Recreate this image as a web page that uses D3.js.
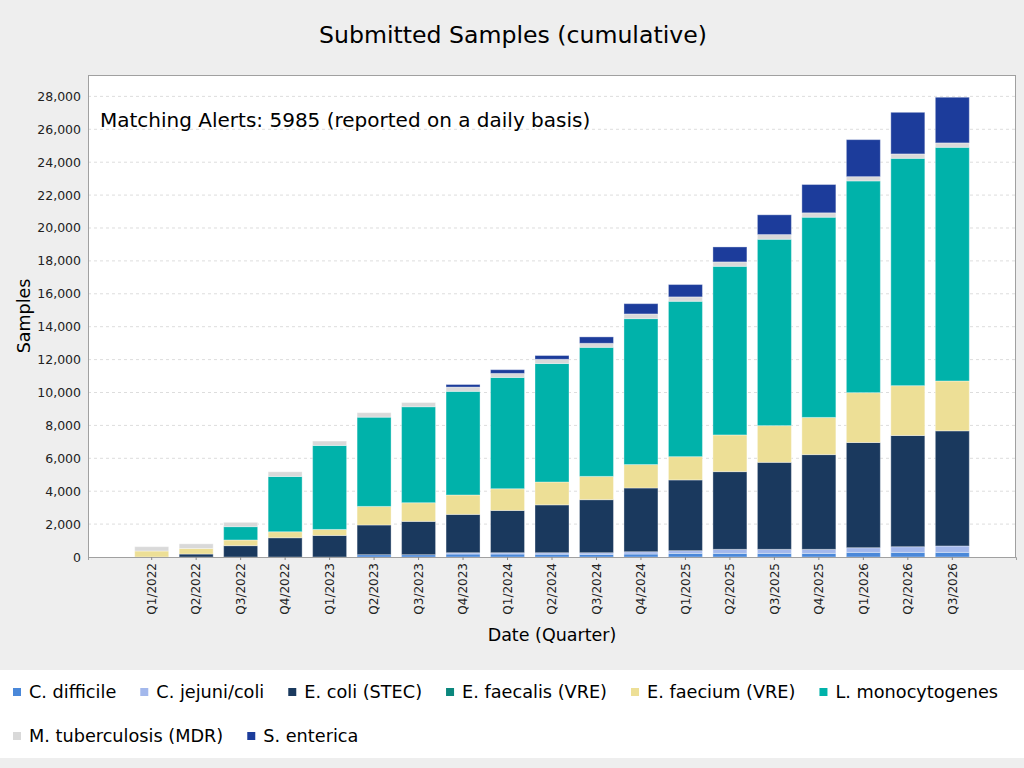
<!DOCTYPE html>
<html>
<head>
<meta charset="utf-8">
<script src="https://cdn.jsdelivr.net/npm/d3@7"></script>
<style>
  html, body { margin: 0; padding: 0; background: #eeeeee; }
  svg { display: block; font-family: "DejaVu Sans", sans-serif; }
</style>
</head>
<body>
<svg id="chart" width="1024" height="768"></svg>
<script>
// ---------- data ----------
const quarters = ["Q1/2022","Q2/2022","Q3/2022","Q4/2022","Q1/2023","Q2/2023","Q3/2023","Q4/2023",
  "Q1/2024","Q2/2024","Q3/2024","Q4/2024","Q1/2025","Q2/2025","Q3/2025","Q4/2025","Q1/2026","Q2/2026","Q3/2026"];
const seriesNames = ["C. difficile","C. jejuni/coli","E. coli (STEC)","E. faecalis (VRE)","E. faecium (VRE)",
  "L. monocytogenes","M. tuberculosis (MDR)","S. enterica"];
const seriesColors = ["#4a88d9","#a3b8ec","#1a395e","#0b877d","#eddf96","#00b2aa","#d9d9d9","#1c3c9b"];

const cDifficile   = [0,0,0,0,0,140,140,180,180,170,160,180,220,220,220,220,280,280,280];
const cJejuni      = [0,0,0,0,0,0,0,80,80,90,100,140,165,245,245,245,285,345,390];
const eColi        = [0,180,690,1170,1310,1805,2025,2330,2570,2910,3225,3875,4300,4725,5290,5760,6395,6760,7000];
const eFaecalis    = [0,0,0,0,0,0,0,0,0,0,0,0,0,0,0,0,0,0,0];
const eFaecium     = [365,340,345,365,365,1130,1135,1180,1320,1390,1415,1425,1415,2230,2230,2260,3030,3030,3030];
const lMono        = [0,0,810,3360,5105,5425,5835,6300,6765,7200,7845,8870,9445,10250,11330,12170,12870,13820,14205];
const mTuberculosis= [262,280,262,285,268,273,255,260,245,257,245,285,267,268,286,267,261,267,267];
const sEnterica    = [0,0,0,0,0,0,0,155,225,230,390,625,750,910,1200,1720,2250,2530,2775];
const yTicks = [0,2000,4000,6000,8000,10000,12000,14000,16000,18000,20000,22000,24000,26000,28000];
const yMax = 29300;

const chartTitle = "Submitted Samples (cumulative)";
const noteText = "Matching Alerts: 5985 (reported on a daily basis)";
const xTitle = "Date (Quarter)";
const yTitle = "Samples";

// ---------- build table ----------
const seriesValues = [cDifficile, cJejuni, eColi, eFaecalis, eFaecium, lMono, mTuberculosis, sEnterica];
const table = quarters.map((q, i) => {
  const row = { quarter: q };
  seriesNames.forEach((s, k) => { row[s] = seriesValues[k][i]; });
  return row;
});

// ---------- layout ----------
const svg = d3.select("#chart");
const W = 1024;
const plot = { left: 88, right: 1016, top: 75, bottom: 557 };

svg.append("rect").attr("width", W).attr("height", 768).attr("fill", "#eeeeee");

const x = d3.scaleBand().domain(quarters).range([plot.left, plot.right])
  .paddingInner(0.236).paddingOuter(1.05);
const y = d3.scaleLinear().domain([0, yMax]).range([plot.bottom, plot.top]);
const color = d3.scaleOrdinal().domain(seriesNames).range(seriesColors);

// plot background
svg.append("rect")
  .attr("x", plot.left).attr("y", plot.top)
  .attr("width", plot.right - plot.left).attr("height", plot.bottom - plot.top)
  .attr("fill", "#ffffff");

// gridlines
svg.append("g").selectAll("line").data(yTicks.filter(t => t > 0)).join("line")
  .attr("x1", plot.left).attr("x2", plot.right)
  .attr("y1", d => y(d)).attr("y2", d => y(d))
  .attr("stroke", "#dddddd").attr("stroke-width", 1).attr("stroke-dasharray", "3,3");

// note text
svg.append("text").attr("x", 100).attr("y", 127)
  .attr("font-size", 20).attr("fill", "#000").text(noteText);

// stacked bars
const stack = d3.stack().keys(seriesNames);
const layers = stack(table);
svg.append("g").selectAll("g").data(layers).join("g")
  .attr("fill", d => color(d.key))
  .selectAll("rect").data(d => d.filter(p => p[1] - p[0] > 0)).join("rect")
  .attr("x", d => x(d.data.quarter))
  .attr("width", x.bandwidth())
  .attr("y", d => y(d[1]))
  .attr("height", d => y(d[0]) - y(d[1]))
  .attr("stroke", "rgba(255,255,255,0.35)")
  .attr("stroke-width", 1);

// plot border
svg.append("rect")
  .attr("x", plot.left + 0.5).attr("y", plot.top + 0.5)
  .attr("width", plot.right - plot.left - 1).attr("height", plot.bottom - plot.top)
  .attr("fill", "none").attr("stroke", "#a0a0a0").attr("stroke-width", 1);

// y axis
const yAxis = d3.axisLeft(y).tickValues(yTicks).tickSize(0).tickPadding(7)
  .tickFormat(d3.format(","));
const gy = svg.append("g").attr("transform", `translate(${plot.left},0)`).call(yAxis);
gy.select(".domain").remove();
gy.selectAll("text").attr("font-size", 12.5).attr("fill", "#222").attr("font-family", "DejaVu Sans");

// x axis
const xAxis = d3.axisBottom(x).tickSize(3).tickPadding(4);
const gx = svg.append("g").attr("transform", `translate(0,${plot.bottom})`).call(xAxis);
gx.select(".domain").attr("stroke", "#a0a0a0");
gx.selectAll(".tick line").attr("stroke", "#888");
gx.selectAll("text")
  .attr("font-size", 12).attr("fill", "#222").attr("font-family", "DejaVu Sans")
  .attr("text-anchor", "end")
  .attr("transform", "rotate(-90)")
  .attr("x", -6).attr("y", 0).attr("dy", "0.35em");

// titles
svg.append("text").attr("x", 513).attr("y", 43).attr("text-anchor", "middle")
  .attr("font-size", 23.6).attr("fill", "#000").text(chartTitle);
svg.append("text").attr("x", (plot.left + plot.right) / 2).attr("y", 641).attr("text-anchor", "middle")
  .attr("font-size", 17.5).attr("fill", "#000").text(xTitle);
svg.append("text").attr("transform", `translate(30,${(plot.top + plot.bottom) / 2}) rotate(-90)`)
  .attr("text-anchor", "middle").attr("font-size", 17.5).attr("fill", "#000").text(yTitle);

// legend
svg.append("rect").attr("x", 0).attr("y", 670).attr("width", W).attr("height", 88).attr("fill", "#ffffff");
const legend = svg.append("g");
let lx = 13, ly = 692;
seriesNames.forEach(name => {
  const g = legend.append("g");
  g.append("rect").attr("width", 8).attr("height", 8).attr("fill", color(name));
  const t = g.append("text").attr("x", 16).attr("y", 4).attr("dy", "0.35em")
    .attr("font-size", 17.7).attr("fill", "#000").text(name);
  const w = 16 + t.node().getComputedTextLength();
  if (lx + w > W - 10) { lx = 13; ly += 44; }
  g.attr("transform", `translate(${lx},${ly - 4})`);
  lx += w + 24;
});
</script>
</body>
</html>
